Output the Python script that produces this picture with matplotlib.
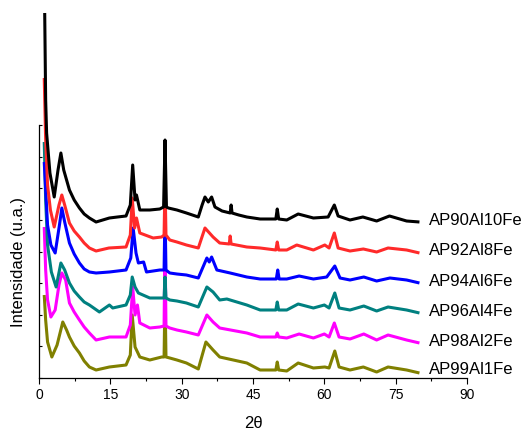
import numpy as np
import matplotlib
matplotlib.use("Agg")
import matplotlib.pyplot as plt
from matplotlib.ticker import MultipleLocator

plt.rcParams['font.family'] = ['Liberation Sans', 'DejaVu Sans']

# ---- data (2theta, intensity in a.u., stacked as plotted) ----
x_ap90 = [1.2, 1.4, 1.6, 2.3, 3.2, 4.0, 4.6, 5.2, 6.4, 7.4, 8.5, 9.5, 10.6, 12.0, 14.8, 16.5, 18.3, 19.2, 19.7,
          20.2, 20.5, 21.2, 23.3, 25.4, 26.2, 26.5, 26.8, 27.2, 29.0, 31.0, 33.5, 34.3, 34.9, 35.6, 36.3,
          37.0, 38.5, 40.2, 40.4, 40.6, 42.0, 43.7, 46.5, 49.8, 50.1, 50.4, 52.1, 54.5, 57.7, 60.8, 62.1,
          62.9, 65.4, 68.1, 71.0, 73.7, 77.3, 80.0]
y_ap90 = [365, 278, 245, 205, 181, 208, 225, 208, 188, 178, 170, 164, 160, 156, 160, 161, 162, 173, 213,
          178, 183, 168, 168, 169, 171, 238, 171, 170, 168, 165, 161, 173, 181, 176, 181,
          171, 167, 165, 173, 165, 163, 161, 159, 159, 169, 159, 158, 164, 160, 161, 173,
          162, 158, 161, 157, 162, 157, 156]

x_ap92 = [1.1, 1.4, 1.8, 2.4, 3.2, 4.2, 4.8, 5.4, 6.4, 7.4, 8.5, 9.5, 10.6, 12.0, 14.7, 18.3, 19.2, 19.6,
          20.1, 20.5, 21.2, 24.0, 25.8, 26.3, 26.5, 26.7, 27.5, 29.0, 31.0, 33.5, 34.9, 36.6, 38.0, 40.0,
          40.2, 40.4, 43.7, 46.5, 49.8, 50.1, 50.4, 52.1, 54.2, 57.7, 60.1, 61.0, 62.1, 62.9, 65.4, 68.2,
          71.0, 73.4, 77.3, 80.0]
y_ap92 = [300, 238, 193, 168, 151, 173, 183, 173, 155, 147, 141, 135, 130, 127, 130, 131, 143, 180,
          150, 160, 145, 140, 141, 143, 196, 143, 138, 136, 133, 130, 150, 141, 135, 134,
          142, 134, 131, 130, 128, 136, 128, 128, 133, 128, 133, 130, 145, 130, 127, 129,
          126, 130, 128, 125]

x_ap94 = [1.1, 1.4, 1.8, 2.5, 3.4, 4.3, 4.8, 5.4, 6.4, 7.4, 8.5, 9.5, 10.6, 12.0, 14.8, 18.3, 19.3, 19.8,
          20.4, 20.9, 22.0, 22.6, 25.4, 26.3, 26.5, 26.7, 27.5, 29.0, 31.0, 33.5, 35.3, 35.8, 36.3, 37.4,
          40.2, 43.7, 46.5, 49.9, 50.2, 50.5, 52.1, 54.7, 57.7, 60.5, 62.2, 63.3, 65.4, 68.3, 71.0, 73.8,
          77.3, 80.0]
y_ap94 = [216, 188, 153, 133, 125, 153, 170, 156, 135, 124, 115, 109, 106, 105, 106, 108, 120, 150,
          125, 115, 116, 106, 108, 108, 168, 108, 105, 104, 103, 100, 120, 116, 121, 108,
          105, 101, 99, 99, 108, 99, 99, 102, 99, 101, 112, 100, 98, 101, 97, 100,
          98, 95]

x_ap96 = [1.1, 1.4, 1.8, 2.6, 3.6, 4.6, 5.4, 6.4, 7.4, 8.5, 9.5, 10.6, 12.7, 14.8, 15.5, 18.3, 19.2, 19.6,
          20.2, 20.9, 23.3, 25.4, 26.3, 26.5, 26.7, 27.5, 29.0, 31.0, 33.5, 35.3, 36.6, 38.0, 39.5, 43.7,
          46.5, 49.8, 50.1, 50.4, 52.1, 54.5, 57.7, 60.0, 61.0, 62.2, 63.1, 65.4, 68.3, 71.0, 73.4, 77.3,
          80.0]
y_ap96 = [236, 178, 133, 106, 91, 115, 108, 95, 87, 81, 76, 73, 66, 73, 70, 73, 83, 101,
          91, 85, 80, 80, 80, 101, 80, 78, 77, 75, 71, 91, 86, 78, 79, 73,
          68, 68, 76, 68, 68, 74, 70, 73, 70, 85, 70, 68, 72, 67, 71, 68,
          65]

x_ap98 = [1.1, 1.4, 1.8, 2.5, 3.4, 4.2, 4.8, 5.6, 6.4, 7.4, 8.5, 9.5, 10.6, 12.0, 14.8, 18.3, 19.2, 19.7,
          20.2, 20.7, 21.2, 23.3, 25.4, 26.3, 26.5, 26.7, 27.5, 29.0, 31.0, 33.5, 35.3, 36.6, 38.0, 43.7,
          46.5, 49.8, 50.1, 50.4, 52.1, 54.7, 57.7, 60.0, 61.0, 62.1, 63.1, 65.4, 68.3, 71.0, 73.4, 77.3,
          80.0]
y_ap98 = [151, 108, 78, 61, 68, 93, 105, 98, 75, 66, 58, 51, 45, 38, 41, 41, 53, 91,
          63, 73, 55, 50, 51, 52, 138, 52, 50, 48, 46, 43, 63, 56, 50, 45,
          41, 41, 45, 41, 40, 44, 40, 44, 41, 55, 41, 39, 44, 38, 43, 38,
          35]

x_ap99 = [1.1, 1.4, 1.8, 2.7, 3.8, 5.0, 5.8, 6.4, 7.4, 8.5, 9.5, 10.6, 12.0, 14.8, 18.3, 19.2, 19.6, 20.2,
          21.2, 23.3, 25.8, 26.3, 26.5, 26.7, 27.5, 29.0, 31.0, 33.5, 35.1, 36.6, 38.0, 43.7, 46.5, 49.8,
          50.1, 50.4, 52.1, 54.5, 57.7, 60.1, 61.0, 62.2, 63.1, 65.4, 68.2, 71.0, 73.4, 77.3, 80.0]
y_ap99 = [83, 58, 36, 21, 33, 56, 48, 41, 32, 25, 17, 11, 8, 11, 13, 23, 63, 31,
          21, 18, 21, 21, 86, 21, 20, 18, 15, 9, 36, 28, 21, 15, 8, 8,
          16, 8, 7, 15, 10, 11, 10, 27, 11, 8, 11, 6, 11, 8, 5]

labels = ["AP90Al10Fe", "AP92Al8Fe", "AP94Al6Fe", "AP96Al4Fe", "AP98Al2Fe", "AP99Al1Fe"]
colors = ["#000000", "#ff2a2a", "#0000ff", "#008080", "#ff00ff", "#808000"]
label_y = [158, 128, 96, 66, 37, 9]
xs = [x_ap90, x_ap92, x_ap94, x_ap96, x_ap98, x_ap99]
ys = [y_ap90, y_ap92, y_ap94, y_ap96, y_ap98, y_ap99]

fig = plt.figure(figsize=(5.23, 4.30), dpi=100)
ax = fig.add_axes([39 / 523, 52 / 430, 428 / 523, 253 / 430])

for i in reversed(range(len(labels))):
    ax.plot(xs[i], ys[i], color=colors[i], lw=2.2, clip_on=False,
            solid_joinstyle='round', solid_capstyle='butt')
    ax.text(82.0, label_y[i], labels[i], color='black', fontsize=12, va='center', ha='left',
            clip_on=False)

ax.set_xlim(0, 90)
ax.set_ylim(0, 253)
ax.xaxis.set_major_locator(MultipleLocator(15))
ax.xaxis.set_minor_locator(MultipleLocator(7.5))
ax.set_yticks(np.linspace(0, 253, 9))
ax.set_yticklabels([])
ax.tick_params(axis='x', which='major', direction='out', length=4, width=0.8, labelsize=10, pad=3)
ax.tick_params(axis='x', which='minor', direction='out', length=2.2, width=0.8)
ax.tick_params(axis='y', which='major', direction='in', length=2.5, width=0.8)
for s in ['top', 'right']:
    ax.spines[s].set_visible(False)
for s in ['left', 'bottom']:
    ax.spines[s].set_linewidth(0.9)

ax.set_xlabel("2θ", fontsize=12, va='center')
ax.xaxis.set_label_coords(0.5, -45 / 253)
ax.set_ylabel("Intensidade (u.a.)", fontsize=12, va='center')
ax.yaxis.set_label_coords(-20 / 428, 0.46)

fig.savefig("out.png", dpi=100)
